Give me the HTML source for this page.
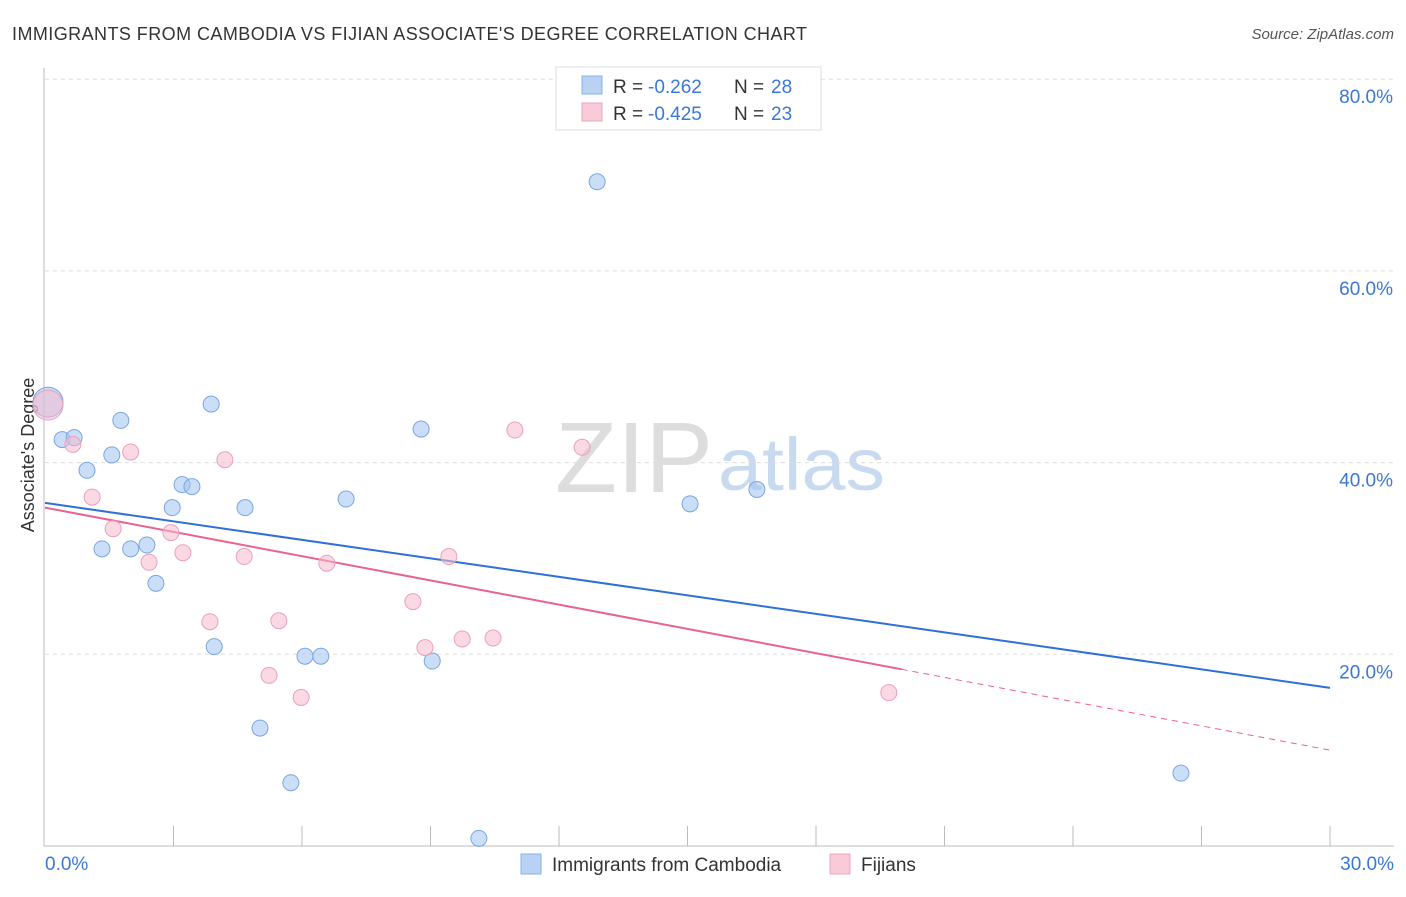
<!DOCTYPE html>
<html><head><meta charset="utf-8"><style>
body{margin:0;background:#fff;font-family:"Liberation Sans",sans-serif;}
svg text{font-family:"Liberation Sans",sans-serif;}
</style></head><body>
<svg id="c" width="1406" height="892" xmlns="http://www.w3.org/2000/svg">
<text x="12" y="40" font-size="18" fill="#333" textLength="795" lengthAdjust="spacing">IMMIGRANTS FROM CAMBODIA VS FIJIAN ASSOCIATE'S DEGREE CORRELATION CHART</text>
<text x="1394" y="39" font-size="15" fill="#555" text-anchor="end" font-style="italic">Source: ZipAtlas.com</text>
<text x="555" y="492" font-size="100" fill="#ddd" textLength="158" lengthAdjust="spacingAndGlyphs" font-family="Liberation Serif">ZIP</text>
<text x="718" y="490" font-size="74" fill="#c7daf0" textLength="167" lengthAdjust="spacingAndGlyphs">atlas</text>
<text transform="translate(34,455) rotate(-90)" font-size="18" fill="#333" text-anchor="middle">Associate's Degree</text>
<g id="grid"></g><g id="axes"></g><g id="trend"></g><g id="pts"></g>
<g>
<rect x="556" y="67" width="265" height="63" fill="#fff" stroke="#ddd"/>
<rect x="582" y="76" width="20" height="18" fill="#b9d1f3" stroke="#8ab0e5"/>
<text x="613" y="93" font-size="19" fill="#333">R =</text>
<text x="648" y="93" font-size="19" fill="#3a78d8">-0.262</text>
<text x="734" y="93" font-size="19" fill="#333">N =</text>
<text x="771" y="93" font-size="19" fill="#3a78d8">28</text>
<rect x="582" y="103" width="20" height="18" fill="#f9cbd8" stroke="#eca4b9"/>
<text x="613" y="120" font-size="19" fill="#333">R =</text>
<text x="648" y="120" font-size="19" fill="#3a78d8">-0.425</text>
<text x="734" y="120" font-size="19" fill="#333">N =</text>
<text x="771" y="120" font-size="19" fill="#3a78d8">23</text>
</g>
<g>
<rect x="521" y="854" width="20" height="20" fill="#b9d1f3" stroke="#8ab0e5"/>
<text x="552" y="871" font-size="19" fill="#333">Immigrants from Cambodia</text>
<rect x="830" y="854" width="20" height="20" fill="#f9cbd8" stroke="#eca4b9"/>
<text x="861" y="871" font-size="19" fill="#333">Fijians</text>
</g>
</svg>
<script>
const blueX=[0.07,0.4,0.68,0.98,1.33,1.56,1.77,2.0,2.38,2.59,2.97,3.2,3.43,3.88,3.95,4.67,5.02,5.74,6.07,6.44,7.03,8.78,9.04,10.13,12.89,15.06,16.62,26.52];
const blueY=[46.3,42.4,42.6,39.2,31.0,40.8,44.4,31.0,31.4,27.4,35.3,37.7,37.5,46.1,20.8,35.3,12.3,6.6,19.8,19.8,36.2,43.5,19.3,0.8,69.3,35.7,37.2,7.6];
const pinkX=[0.07,0.65,1.1,1.59,2.0,2.43,2.94,3.22,3.85,4.2,4.65,5.23,5.46,5.98,6.58,8.59,8.87,9.43,9.74,10.46,10.97,12.54,19.7];
const pinkY=[46.0,41.9,36.4,33.1,41.1,29.6,32.7,30.6,23.4,40.3,30.2,17.8,23.5,15.5,29.5,25.5,20.7,30.2,21.6,21.7,43.4,41.6,16.0];
const blueTrend=[35.8,16.5];
const pinkTrend=[35.3,10.0];
const yTicks=[20,40,60,80];
const yTickLabels=["20.0%","40.0%","60.0%","80.0%"];
const xTickLabels=["0.0%","30.0%"];
const NS="http://www.w3.org/2000/svg";
const X=v=>45+v*1285/30, Y=v=>846-v*191.7/20;
function mk(t,a,p){const e=document.createElementNS(NS,t);for(const k in a)e.setAttribute(k,a[k]);document.getElementById(p).appendChild(e);return e;}
yTicks.forEach((t,i)=>{
 const l=mk('line',{x1:45,x2:1394,y1:Y(t),y2:Y(t),stroke:'#ddd','stroke-dasharray':'4,4'},'grid');
 
 
 const tx=mk('text',{x:1393,y:Y(t)+24,'font-size':19,fill:'#3a78d8','text-anchor':'end'},'grid');
 tx.textContent=yTickLabels[i];
 
 
});
let a=mk('line',{x1:44,x2:44,y1:68,y2:846,stroke:'#bbb'},'axes');


a=mk('line',{x1:44,x2:1394,y1:846,y2:846,stroke:'#bbb'},'axes');


for(let k=1;k<=10;k++){const t=mk('line',{x1:X(k*3),x2:X(k*3),y1:826,y2:846,stroke:'#bbb'},'axes');
 
 }
[[0,'start',45],[30,'end',1394]].forEach((d,i)=>{const t=mk('text',{x:d[2],y:870,'font-size':19,fill:'#3a78d8','text-anchor':d[1]},'axes');t.textContent=xTickLabels[i];
 
 });
const lt=(v,tr)=>tr[0]+(tr[1]-tr[0])*v/30;
let ln=mk('line',{x1:X(0),y1:Y(lt(0,blueTrend)),x2:X(30),y2:Y(lt(30,blueTrend)),stroke:'#2f6fd8','stroke-width':2},'trend');


ln=mk('line',{x1:X(0),y1:Y(lt(0,pinkTrend)),x2:X(20),y2:Y(lt(20,pinkTrend)),stroke:'#e8638f','stroke-width':2},'trend');


ln=mk('line',{x1:X(20),y1:Y(lt(20,pinkTrend)),x2:X(30),y2:Y(lt(30,pinkTrend)),stroke:'#e8638f','stroke-width':1,'stroke-dasharray':'6,5'},'trend');


function pts(xs,ys,fill,stroke,name){xs.forEach((x,i)=>{const c=mk('circle',{cx:X(x),cy:Y(ys[i]),r:i==0?15:8,fill:fill,stroke:stroke,'stroke-width':1},'pts');
 
 });}
pts(blueX,blueY,'rgba(160,195,240,0.55)','#7aa6e0','point-cambodia');
pts(pinkX,pinkY,'rgba(246,185,205,0.55)','#eba0b8','point-fijians');
</script>
</body></html>
